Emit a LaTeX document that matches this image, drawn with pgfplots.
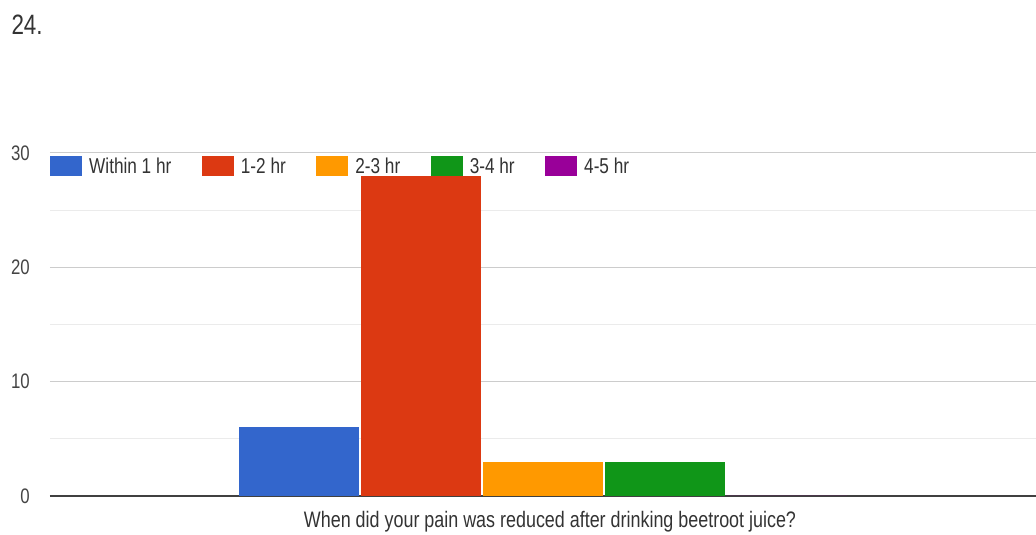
\documentclass[border=0pt]{standalone}
\usepackage{pgfplots}
\pgfplotsset{compat=1.18}
\usepackage{fontspec}
\setmainfont{Liberation Sans}[FakeStretch=0.8]

\definecolor{cBlue}{HTML}{3366CC}
\definecolor{cRed}{HTML}{DC3912}
\definecolor{cOrange}{HTML}{FF9900}
\definecolor{cGreen}{HTML}{109618}
\definecolor{cPurple}{HTML}{990099}
\definecolor{txt}{HTML}{333333}
\definecolor{tick}{HTML}{444444}
\definecolor{gridmaj}{HTML}{CCCCCC}
\definecolor{gridmin}{HTML}{EBEBEB}

\pgfplotsset{
  legbox/.style={legend image code/.code={\fill[##1] (0pt,-10pt) rectangle (32pt,10pt);}},
}

\begin{document}
\begin{tikzpicture}
\useasboundingbox (0,0) rectangle (1036pt,535pt);

\node[anchor=west, text=txt, font=\fontsize{28pt}{32pt}\selectfont] at (8pt,510pt) {24.};

\begin{axis}[
  at={(50pt,39pt)}, anchor=south west,
  scale only axis, width=986pt, height=343pt,
  xmin=-1, xmax=1, ymin=0, ymax=30,
  ybar=2pt, bar width=120pt,
  xtick=\empty,
  ytick={0,10,20,30},
  minor ytick={5,15,25},
  ymajorgrids, yminorgrids,
  major grid style={gridmaj, line width=1pt},
  minor grid style={gridmin, line width=1pt},
  extra y ticks={0}, extra y tick labels={},
  extra y tick style={major grid style={black!75, line width=2pt}},
  major tick length=0pt, minor tick length=0pt,
  axis line style={draw=none},
  /pgf/number format/assume math mode=true,
  yticklabel style={font=\fontsize{21pt}{24pt}\selectfont, text=tick, anchor=east, inner sep=0pt, xshift=-20pt},
  xlabel={When did your pain was reduced after drinking beetroot juice?},
  xlabel style={font=\fontsize{22.4pt}{26pt}\selectfont, text=txt, at={(axis description cs:0.5,0)}, anchor=base, yshift=-32pt, xshift=7pt},
  legend style={at={(0,1)}, anchor=north west, yshift=-3pt, draw=none, fill=none, inner sep=0pt,
    font=\fontsize{21.5pt}{24pt}\selectfont, text=txt, legend columns=5,
    legend cell align=left,
    nodes={inner xsep=2pt, inner ysep=1pt},
    /tikz/every odd column/.style={column sep=5pt},
    /tikz/every even column/.style={column sep=28.5pt}},
]
\addplot[fill=cBlue, draw=none, legbox] coordinates {(0,6)};
\addlegendentry{Within 1 hr}
\addplot[fill=cRed, draw=none, legbox] coordinates {(0,28)};
\addlegendentry{1-2 hr}
\addplot[fill=cOrange, draw=none, legbox] coordinates {(0,3)};
\addlegendentry{2-3 hr}
\addplot[fill=cGreen, draw=none, legbox] coordinates {(0,3)};
\addlegendentry{3-4 hr}
\addplot[fill=cPurple, draw=none, legbox] coordinates {(0,0)};
\addlegendentry{4-5 hr}
\end{axis}
\end{tikzpicture}
\end{document}
